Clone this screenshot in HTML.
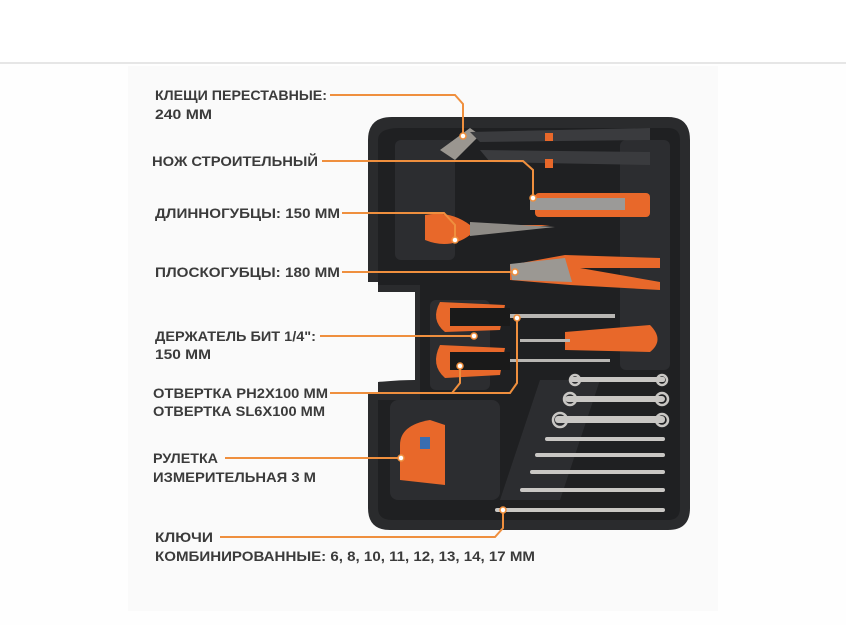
<!DOCTYPE html>
<html><head><meta charset="utf-8"><style>
html,body{margin:0;padding:0;background:#fff;width:846px;height:625px;overflow:hidden}
svg{display:block}
text{font-family:"Liberation Sans","DejaVu Sans",sans-serif;font-weight:bold;font-size:14px;fill:#3b3b3b}
</style></head><body>
<svg width="846" height="625" viewBox="0 0 846 625" xmlns="http://www.w3.org/2000/svg">
<rect x="0" y="0" width="846" height="62" fill="#fff"/>
<rect x="0" y="62" width="846" height="2" fill="#e6e6e6"/>
<rect x="0" y="64" width="846" height="561" fill="#fefefe"/>
<rect x="128" y="66" width="590" height="545" fill="#fafafa"/>
<!-- case -->
<path d="M392 117 H668 Q690 117 690 140 V508 Q690 530 668 530 H390 Q368 530 368 508 V392 H378 V382 Q400 380 415 380 V292 H378 V282 H368 V140 Q368 117 392 117 Z" fill="#2a2b2d"/>
<path d="M400 128 H668 Q680 128 680 140 V508 Q680 520 668 520 H392 Q378 520 378 508 V400 H420 V285 H378 V140 Q378 128 400 128Z" fill="#1f2022"/>
<!-- inner compartments -->
<g fill="#2c2d30">
<rect x="395" y="140" width="60" height="120" rx="6"/>
<rect x="430" y="300" width="60" height="90" rx="6"/>
<rect x="390" y="400" width="110" height="100" rx="8"/>
<path d="M540 380 L600 380 L560 500 L500 500 Z"/>
<rect x="620" y="140" width="50" height="230" rx="6"/>
</g>
<!-- adjustable pliers -->
<path d="M440 150 L470 128 L480 135 L455 160 Z" fill="#9a9690"/>
<path d="M470 132 L650 128 L650 140 L480 142Z" fill="#3a3b3e"/>
<rect x="545" y="133" width="8" height="8" fill="#e8682a"/>
<path d="M480 150 L650 152 L650 165 L490 162Z" fill="#3a3b3e"/>
<rect x="545" y="159" width="8" height="9" fill="#e8682a"/>
<!-- knife -->
<rect x="535" y="193" width="115" height="24" rx="4" fill="#e8682a"/>
<rect x="530" y="198" width="95" height="12" fill="#9b9a98"/>
<!-- long nose pliers -->
<path d="M425 215 Q450 210 470 225 L550 225 L470 235 Q450 250 425 240 Z" fill="#e8682a"/>
<path d="M470 222 L555 227 L470 236Z" fill="#8e8b86"/>
<!-- combination pliers -->
<path d="M510 265 L565 255 L660 258 L660 268 L580 268 L660 282 L660 290 L570 285 L510 280Z" fill="#e8682a"/>
<path d="M510 264 L565 258 L572 282 L512 280Z" fill="#9b9893"/>
<!-- screwdrivers -->
<path d="M440 302 Q430 320 445 332 L500 330 L505 305 Z" fill="#e8682a"/>
<rect x="450" y="308" width="60" height="18" fill="#1a1a1a"/>
<rect x="510" y="314" width="105" height="4" fill="#b8b6b3"/>
<path d="M565 332 L650 325 Q665 340 650 352 L565 350 Z" fill="#e8682a"/>
<rect x="520" y="339" width="50" height="3" fill="#b8b6b3"/>
<path d="M440 345 Q430 365 445 378 L500 375 L505 348Z" fill="#e8682a"/>
<rect x="450" y="352" width="60" height="18" fill="#1a1a1a"/>
<rect x="510" y="359" width="100" height="3" fill="#b8b6b3"/>
<!-- wrenches -->
<g fill="#c9c7c4">
<rect x="570" y="377" width="95" height="5" rx="2"/>
<rect x="565" y="396" width="100" height="6" rx="3"/>
<rect x="555" y="416" width="110" height="7" rx="3"/>
<rect x="545" y="437" width="120" height="4" rx="2"/>
<rect x="535" y="453" width="130" height="4" rx="2"/>
<rect x="530" y="470" width="135" height="4" rx="2"/>
<rect x="520" y="488" width="145" height="4" rx="2"/>
<rect x="495" y="508" width="170" height="4" rx="2"/>
</g>
<g fill="none" stroke="#c9c7c4" stroke-width="2.5">
<circle cx="662" cy="380" r="5"/><circle cx="662" cy="399" r="6"/><circle cx="662" cy="420" r="6"/>
<circle cx="575" cy="380" r="5"/><circle cx="570" cy="399" r="6"/><circle cx="560" cy="420" r="7"/>
</g>
<!-- tape -->
<path d="M400 445 Q400 425 430 420 L445 425 L445 485 L400 480 Z" fill="#e8682a"/>
<rect x="420" y="437" width="10" height="12" fill="#3a6db0"/>
<!-- leader lines -->
<g fill="none" stroke="#ef8f3e" stroke-width="2">
<path d="M330 95 H455 L463 104 V135"/>
<path d="M322 161 H523 L533 170 V197"/>
<path d="M342 213 H444 L455 225 V240"/>
<path d="M342 272 H514"/>
<path d="M320 336 H473"/>
<path d="M330 393 H510 L517 383 V318"/>
<path d="M452 393 L460 383 V367"/>
<path d="M225 458 H400"/>
<path d="M220 537 H495 L503 528 V510"/>
</g>
<g fill="#fff" stroke="#ef8f3e" stroke-width="1.5">
<circle cx="463" cy="136" r="3"/><circle cx="533" cy="198" r="3"/><circle cx="455" cy="240" r="3"/>
<circle cx="515" cy="272" r="3"/><circle cx="474" cy="336" r="3"/><circle cx="517" cy="318" r="3"/>
<circle cx="460" cy="366" r="3"/><circle cx="401" cy="458" r="3"/><circle cx="503" cy="510" r="3"/>
</g>
<!-- labels -->
<text x="155" y="100" textLength="172" lengthAdjust="spacingAndGlyphs">КЛЕЩИ ПЕРЕСТАВНЫЕ:</text>
<text x="155" y="119" textLength="57" lengthAdjust="spacingAndGlyphs">240 ММ</text>
<text x="152" y="166" textLength="166" lengthAdjust="spacingAndGlyphs">НОЖ СТРОИТЕЛЬНЫЙ</text>
<text x="155" y="218" textLength="185" lengthAdjust="spacingAndGlyphs">ДЛИННОГУБЦЫ: 150 ММ</text>
<text x="155" y="277" textLength="185" lengthAdjust="spacingAndGlyphs">ПЛОСКОГУБЦЫ: 180 ММ</text>
<text x="155" y="341" textLength="161" lengthAdjust="spacingAndGlyphs">ДЕРЖАТЕЛЬ БИТ 1/4":</text>
<text x="155" y="359" textLength="56" lengthAdjust="spacingAndGlyphs">150 ММ</text>
<text x="153" y="398" textLength="175" lengthAdjust="spacingAndGlyphs">ОТВЕРТКА PH2X100 ММ</text>
<text x="153" y="416" textLength="172" lengthAdjust="spacingAndGlyphs">ОТВЕРТКА SL6X100 ММ</text>
<text x="153" y="463" textLength="65" lengthAdjust="spacingAndGlyphs">РУЛЕТКА</text>
<text x="153" y="482" textLength="163" lengthAdjust="spacingAndGlyphs">ИЗМЕРИТЕЛЬНАЯ 3 М</text>
<text x="155" y="542" textLength="58" lengthAdjust="spacingAndGlyphs">КЛЮЧИ</text>
<text x="155" y="561" textLength="380" lengthAdjust="spacingAndGlyphs">КОМБИНИРОВАННЫЕ: 6, 8, 10, 11, 12, 13, 14, 17 ММ</text>
</svg>
</body></html>
